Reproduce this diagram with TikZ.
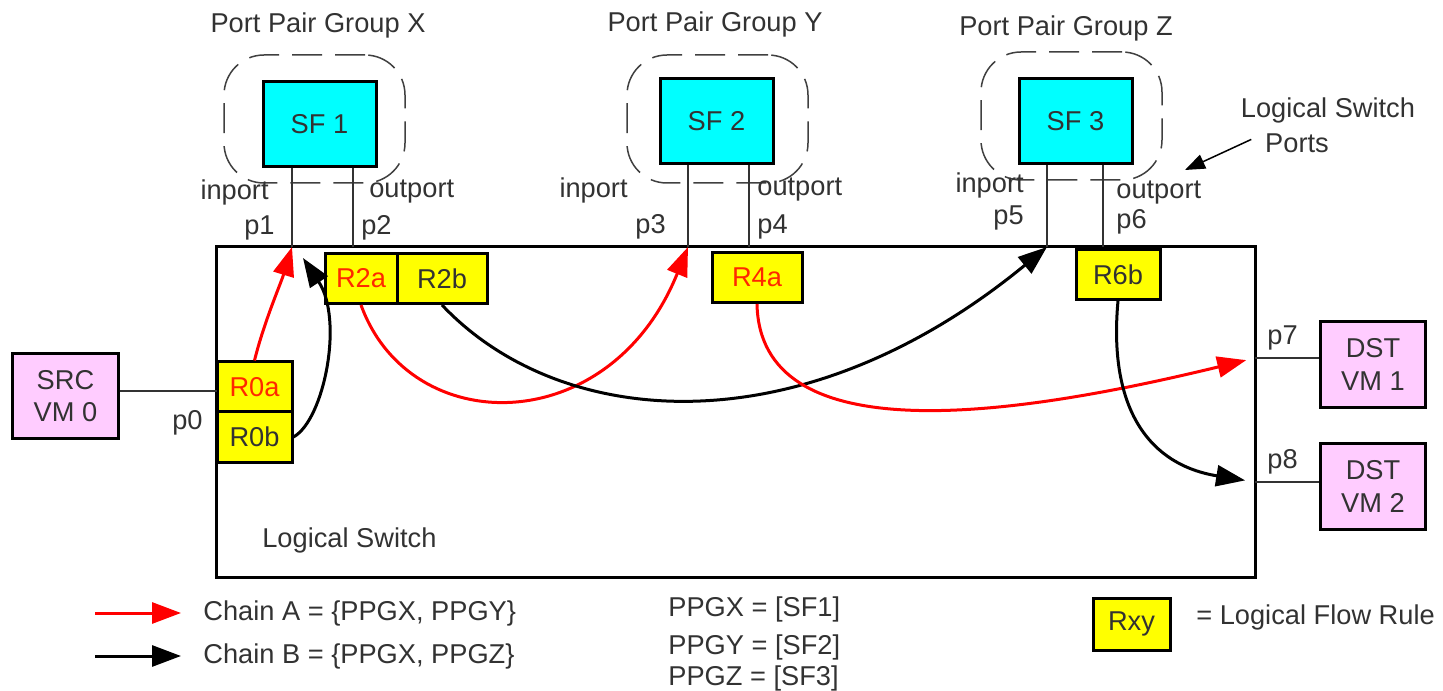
\documentclass[tikz,border=0pt]{standalone}
\usepackage{fontspec}
\setmainfont{Liberation Sans}
\usetikzlibrary{arrows.meta}
\definecolor{sfcyan}{RGB}{0,255,255}
\definecolor{vmpink}{RGB}{255,204,255}
\definecolor{ruleyellow}{RGB}{255,255,0}
\definecolor{txtgray}{RGB}{50,50,50}
\definecolor{flowred}{RGB}{255,0,0}
\definecolor{rulered}{RGB}{255,40,0}

\begin{document}
\begin{tikzpicture}[x=0.2mm,y=-0.2mm,
  every node/.style={font=\fontsize{15.5}{18.6}\selectfont, text=txtgray, inner sep=0},
  sfbox/.style={draw=black, line width=0.6mm, fill=sfcyan, minimum width=22.6mm, minimum height=17mm},
  vmbox/.style={draw=black, line width=0.6mm, fill=vmpink, minimum width=21mm, minimum height=17mm, align=center},
  rulebox/.style={draw=black, line width=0.6mm, fill=ruleyellow, minimum width=#1, minimum height=10mm},
  rulebox/.default=15mm,
  ppgbox/.style={draw=black!75, line width=0.3mm, dash pattern=on 6mm off 2.6mm, rounded corners=8mm, minimum width=36.2mm, minimum height=25.6mm},
  portline/.style={draw=black!80, line width=0.3mm},
  chainA/.style={flowred, line width=0.6mm, -{Triangle[length=5.8mm,width=4.2mm]}},
  chainB/.style={black, line width=0.6mm, -{Triangle[length=5.8mm,width=4.2mm]}}]
\useasboundingbox (0,0) rectangle (1443,691);

% logical switch
\node [draw=black, line width=0.6mm, minimum width=207.6mm, minimum height=66mm] (lswitch) at (736,412) {};
\node [anchor=west] (lswitchtxt) at (262,540) {Logical Switch};

% port pair groups
\node [ppgbox] (ppgX) at (314.5,119) {};
\node [ppgbox] (ppgY) at (717.5,119) {};
\node [ppgbox] (ppgZ) at (1071.5,116) {};
\node (titleX) at (318,25) {Port Pair Group X};
\node (titleY) at (715,24) {Port Pair Group Y};
\node (titleZ) at (1066,28) {Port Pair Group Z};

\node [sfbox] (sf1) at (319.5,124.5) {SF 1};
\node [sfbox] (sf2) at (716.5,121.5) {SF 2};
\node [sfbox] (sf3) at (1075.5,121.5) {SF 3};

\coordinate (p1) at (292,247);
\coordinate (p2) at (353,247);
\coordinate (p3) at (688,247);
\coordinate (p4) at (749,247);
\coordinate (p5) at (1047,247);
\coordinate (p6) at (1103,247);
\draw [portline] (sf1.south -| p1) -- (p1);
\draw [portline] (sf1.south -| p2) -- (p2);
\draw [portline] (sf2.south -| p3) -- (p3);
\draw [portline] (sf2.south -| p4) -- (p4);
\draw [portline] (sf3.south -| p5) -- (p5);
\draw [portline] (sf3.south -| p6) -- (p6);

\node [anchor=east] (inX) at (269,192) {inport};
\node [anchor=west] (outX) at (369,192) {outport};
\node [anchor=east] (lp1) at (275,228) {p1};
\node [anchor=west] (lp2) at (361,228) {p2};
\node [anchor=east] (inY) at (628,190) {inport};
\node [anchor=west] (outY) at (757,190) {outport};
\node [anchor=east] (lp3) at (666,227) {p3};
\node [anchor=west] (lp4) at (757,227) {p4};
\node [anchor=east] (inZ) at (1024,185) {inport};
\node [anchor=west] (outZ) at (1116,193) {outport};
\node [anchor=east] (lp5) at (1024,218) {p5};
\node [anchor=west] (lp6) at (1116,222) {p6};

\node (lspA) at (1328,110) {Logical Switch};
\node (lspB) at (1297,143) {Ports};
\coordinate (lsptip) at (1185,170);
\draw [black, line width=0.3mm, -{Triangle[length=4mm,width=3mm]}, shorten <=3mm] (lspB.north west) -- (lsptip);

% flow rules
\node [rulebox] (R0a) at (254.5,387) {\textcolor{rulered}{R0a}};
\node [rulebox] (R0b) at (254.5,437) {R0b};
\node [rulebox=14.4mm] (R2a) at (361,278.5) {\textcolor{rulered}{R2a}};
\node [rulebox=18mm] (R2b) at (442,278.5) {R2b};
\node [rulebox=18mm] (R4a) at (757,277.5) {\textcolor{rulered}{R4a}};
\node [rulebox=16.8mm] (R6b) at (1118,274.5) {R6b};

% VMs
\node [vmbox] (src) at (65.5,396) {SRC\\VM 0};
\node [vmbox] (dst1) at (1373,364.5) {DST\\VM 1};
\node [vmbox] (dst2) at (1373,486.5) {DST\\VM 2};
\coordinate (p0) at (217,391);
\coordinate (p7) at (1255,358);
\coordinate (p8) at (1255,482);
\draw [portline] (src.east |- p0) -- (p0);
\draw [portline] (p7) -- (dst1.west |- p7);
\draw [portline] (p8) -- (dst2.west |- p8);
\node [anchor=east] (lp0) at (203,423) {p0};
\node [anchor=west] (lp7) at (1267,338) {p7};
\node [anchor=west] (lp8) at (1267,462) {p8};

% chains
\coordinate (p1b) at (303,258);
\draw [chainA] (R0a.north) .. controls (264,322) and (281,283) .. (p1);
\draw [chainB] (R0b.east) .. controls (324,420) and (344,320) .. (p1b);
\draw [chainA] (R2a.south) .. controls (410,440) and (610,440) .. (p3);
\draw [chainB] (R2b.south) .. controls (560,430) and (800,450) .. (p5);
\draw [chainA, shorten >=1.8mm] (R4a.south) .. controls (760,450) and (1000,420) .. (p7);
\draw [chainB, shorten >=2mm] (R6b.south) .. controls (1108,410) and (1150,465) .. (p8);

% legend
\coordinate (legA0) at (95,613);
\coordinate (legA1) at (181,613);
\coordinate (legB0) at (95,656);
\coordinate (legB1) at (181,656);
\draw [chainA] (legA0) -- (legA1);
\draw [chainB] (legB0) -- (legB1);
\node [anchor=west] (chainAtxt) at (203,613) {Chain A = \{PPGX, PPGY\}};
\node [anchor=west] (chainBtxt) at (203,656) {Chain B = \{PPGX, PPGZ\}};
\node [anchor=west] (defX) at (668,609) {PPGX = [SF1]};
\node [anchor=west] (defY) at (668,647) {PPGY = [SF2]};
\node [anchor=west] (defZ) at (668,678) {PPGZ = [SF3]};
\node [rulebox=15.4mm, minimum height=10.4mm] (rxy) at (1131.5,624) {Rxy};
\node [anchor=west] (rxytxt) at (1196,617) {= Logical Flow Rule};

\end{tikzpicture}
\end{document}
